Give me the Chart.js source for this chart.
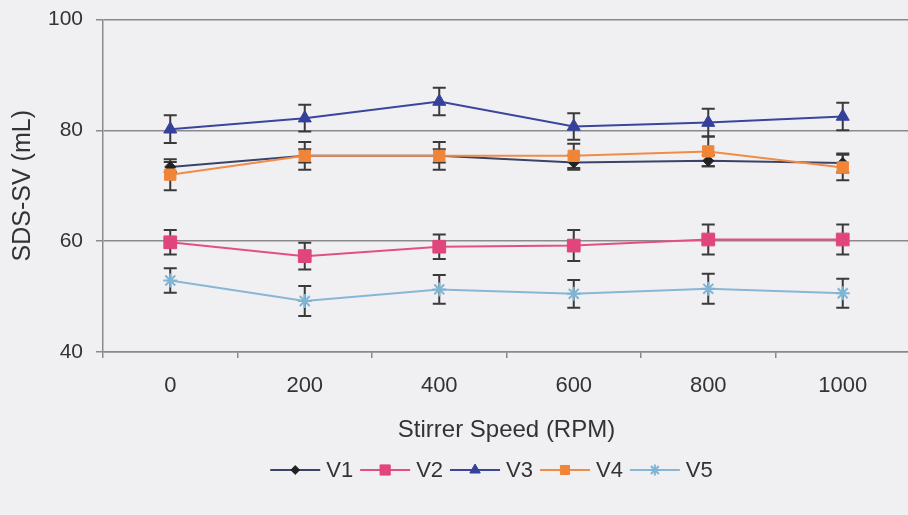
<!DOCTYPE html>
<html><head><meta charset="utf-8">
<script src="https://cdn.jsdelivr.net/npm/chart.js@4/dist/chart.umd.min.js"></script>
<style>
html,body{margin:0;padding:0;background:#f0f0f3;overflow:hidden;}
canvas{display:block;}
</style>
</head><body><canvas id="c" width="920" height="515" style="width:920px;height:515px"></canvas>
<script>
const categories = ['0','200','400','600','800','1000'];
const seriesNames = ['V1','V2','V3','V4','V5'];
const v1 = [73.4, 75.4, 75.4, 74.2, 74.5, 74.1];
const v2 = [59.8, 57.3, 59.0, 59.2, 60.3, 60.3];
const v3 = [80.2, 82.2, 85.2, 80.7, 81.4, 82.5];
const v4 = [72.0, 75.4, 75.4, 75.4, 76.2, 73.3];
const v5 = [52.9, 49.2, 51.3, 50.5, 51.4, 50.6];
const v1Err = [0.9, 1.2, 1.2, 1.3, 1.0, 1.7];
const v2Err = [2.2, 2.4, 2.2, 2.8, 2.7, 2.7];
const v3Err = [2.5, 2.4, 2.5, 2.4, 2.5, 2.5];
const v4Err = [2.8, 2.5, 2.5, 2.2, 2.7, 2.3];
const v5Err = [2.2, 2.7, 2.6, 2.5, 2.7, 2.6];
const yTicks = [40, 60, 80, 100];

const FONT = "'Liberation Sans', Arial, sans-serif";
const TEXT = '#333333';
const GRID = '#8a8a8a';

const styles = [
  {line:'#3a4468', fill:'#222222', stroke:'#222222', pointStyle:'rectRot', radius:5.5},
  {line:'#e2507f', fill:'#e0457b', stroke:'#e0457b', pointStyle:'rect', radius:9},
  {line:'#3a469c', fill:'#34409a', stroke:'#34409a', pointStyle:'triangle', radius:7.5},
  {line:'#f08c48', fill:'#f08538', stroke:'#f08538', pointStyle:'rect', radius:8},
  {line:'#88b6d6', fill:'#80b4d4', stroke:'#80b4d4', pointStyle:'star', radius:7}
];
const values = [v1, v2, v3, v4, v5];
const errors = [v1Err, v2Err, v3Err, v4Err, v5Err];

const datasets = seriesNames.map((n, i) => ({
  label: n,
  data: values[i],
  borderColor: styles[i].line,
  backgroundColor: styles[i].fill,
  pointBackgroundColor: styles[i].fill,
  pointBorderColor: styles[i].stroke,
  pointBorderWidth: styles[i].pointStyle === 'star' ? 2 : 1,
  pointStyle: styles[i].pointStyle,
  pointRadius: styles[i].radius,
  pointHoverRadius: styles[i].radius,
  borderWidth: 2,
  tension: 0,
  fill: false,
  order: 5 - i
}));

const errorBars = {
  id: 'errorBars',
  beforeDatasetsDraw(chart) {
    const ctx = chart.ctx, y = chart.scales.y, x = chart.scales.x;
    ctx.save();
    ctx.strokeStyle = '#3a3a3a';
    ctx.lineWidth = 2;
    values.forEach((vals, i) => {
      vals.forEach((v, j) => {
        const px = x.getPixelForValue(j);
        const top = y.getPixelForValue(v + errors[i][j]);
        const bot = y.getPixelForValue(v - errors[i][j]);
        ctx.beginPath();
        ctx.moveTo(px, top); ctx.lineTo(px, bot);
        ctx.moveTo(px - 6.5, top); ctx.lineTo(px + 6.5, top);
        ctx.moveTo(px - 6.5, bot); ctx.lineTo(px + 6.5, bot);
        ctx.stroke();
      });
    });
    ctx.restore();
  }
};

const customLegend = {
  id: 'customLegend',
  afterDraw(chart) {
    const ctx = chart.ctx;
    ctx.save();
    ctx.font = '22px ' + FONT;
    const lineLen = 50, gap = 6, spacing = 7;
    const widths = seriesNames.map(n => ctx.measureText(n).width);
    const total = widths.reduce((a, w) => a + lineLen + gap + w, 0) + spacing * (seriesNames.length - 1);
    let xPos = 491.5 - total / 2;
    const yc = 470;
    seriesNames.forEach((n, i) => {
      const s = styles[i];
      ctx.strokeStyle = s.line;
      ctx.lineWidth = 2;
      ctx.beginPath();
      ctx.moveTo(xPos, yc); ctx.lineTo(xPos + lineLen, yc);
      ctx.stroke();
      ctx.fillStyle = s.fill;
      ctx.strokeStyle = s.stroke;
      ctx.lineWidth = s.pointStyle === 'star' ? 2 : 1;
      Chart.helpers.drawPoint(ctx, {pointStyle: s.pointStyle, radius: s.radius * 0.8, rotation: 0, borderWidth: ctx.lineWidth}, xPos + lineLen / 2, yc);
      ctx.fillStyle = TEXT;
      ctx.textBaseline = 'middle';
      ctx.textAlign = 'left';
      ctx.fillText(n, xPos + lineLen + gap, yc + 1);
      xPos += lineLen + gap + widths[i] + spacing;
    });
    ctx.restore();
  }
};

new Chart(document.getElementById('c'), {
  type: 'line',
  data: { labels: categories, datasets },
  plugins: [errorBars, customLegend],
  options: {
    responsive: false,
    animation: false,
    devicePixelRatio: 1,
    layout: { padding: { top: 19.5, right: 0, bottom: 63, left: 0 } },
    plugins: { legend: { display: false }, tooltip: { enabled: false } },
    scales: {
      x: {
        type: 'category',
        offset: true,
        afterFit(s) { s.height = 100; s.paddingLeft = 0; s.paddingRight = 0; },
        grid: { offset: true, drawOnChartArea: false, drawTicks: true, tickLength: 6, color: GRID, lineWidth: 1.5 },
        border: { display: true, color: GRID, width: 1.5 },
        ticks: { color: TEXT, font: { family: FONT, size: 22 }, padding: 15, maxRotation: 0 },
        title: { display: true, text: 'Stirrer Speed (RPM)', color: TEXT, font: { family: FONT, size: 24 }, padding: { top: 0, bottom: 7 } }
      },
      y: {
        min: 40, max: 100,
        afterFit(s) { s.width = 103; s.paddingTop = 0; s.paddingBottom = 0; },
        afterBuildTicks(s) { s.ticks = yTicks.map(v => ({ value: v })); },
        grid: { color: GRID, lineWidth: 1.5, drawTicks: true, tickLength: 7 },
        border: { display: true, color: GRID, width: 1.5 },
        ticks: { color: TEXT, font: { family: FONT, size: 21 }, padding: 13 },
        title: { display: true, text: 'SDS-SV (mL)', color: TEXT, font: { family: FONT, size: 25 }, padding: { top: 8, bottom: 0 } }
      }
    }
  }
});
</script>
</body></html>
